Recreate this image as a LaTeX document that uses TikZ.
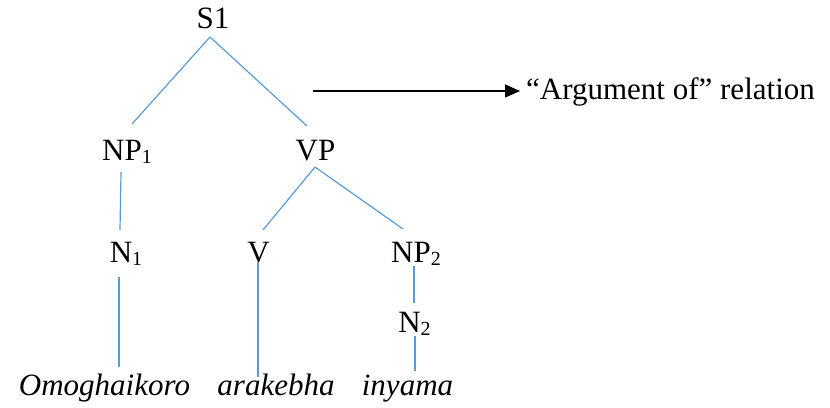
\documentclass[tikz,border=0pt]{standalone}
\usepackage{fontspec}
\setmainfont{Liberation Serif}
\usetikzlibrary{arrows.meta,calc}
\newcommand{\mysub}[1]{\raisebox{-3pt}{\fontsize{20}{20}\selectfont #1}}
\begin{document}
\begin{tikzpicture}[x=1pt,y=-1pt,
  lbl/.style={inner sep=0pt,anchor=base,font=\fontsize{31}{36}\selectfont},
  word/.style={lbl,font=\fontsize{31}{36}\selectfont\itshape},
  branch/.style={draw=blueline,line width=1.2pt},
  relarrow/.style={draw=black,line width=1.5pt,-{Triangle[length=15pt,width=13pt]}}]
\definecolor{blueline}{HTML}{5B9BD5}
\useasboundingbox (0,0) rectangle (830,407);
\node[lbl] (S1) at (213,28) {S1};
\node[lbl] (NP1) at (127,160) {NP\mysub{1}};
\node[lbl] (VP) at (315.5,160) {VP};
\node[lbl] (N1) at (126,262) {N\mysub{1}};
\node[lbl] (V) at (258.5,262) {V};
\node[lbl] (NP2) at (416,262) {NP\mysub{2}};
\node[lbl] (N2) at (414.5,332) {N\mysub{2}};
\node[word] (om) at (104.5,395) {Omoghaikoro};
\node[word] (ar) at (276,395) {arakebha};
\node[word] (in) at (407.5,395) {inyama};
\node[lbl,anchor=base west] (rel) at (526,99) {“Argument of” relation};
\coordinate (arrstart) at (313,91);
\draw[branch] ($(S1.base)+(-3,9)$) -- ($(NP1.base)+(5,-36)$);
\draw[branch] ($(S1.base)+(-3,9)$) -- ($(VP.base)+(-8.5,-34)$);
\draw[branch] ($(NP1.base)+(-6,12)$) -- ($(N1.base)+(-6,-32)$);
\draw[branch] ($(N1.base)+(-7,15)$) -- ($(om.base)+(14.5,-28)$);
\draw[branch] ($(VP.base)+(-0.5,7)$) -- ($(V.base)+(4.5,-32)$);
\draw[branch] ($(VP.base)+(-0.5,7)$) -- ($(NP2.base)+(-13,-33)$);
\draw[branch] ($(V.base)+(-0.5,0)$) -- ($(ar.base)+(-18,-18)$);
\draw[branch] ($(NP2.base)+(-2,4)$) -- ($(N2.base)+(-0.5,-29)$);
\draw[branch] ($(N2.base)+(0.5,4)$) -- ($(in.base)+(7.5,-24)$);
\draw[relarrow] (arrstart) -- ($(rel.base west)+(-6,-8)$);
\end{tikzpicture}
\end{document}
